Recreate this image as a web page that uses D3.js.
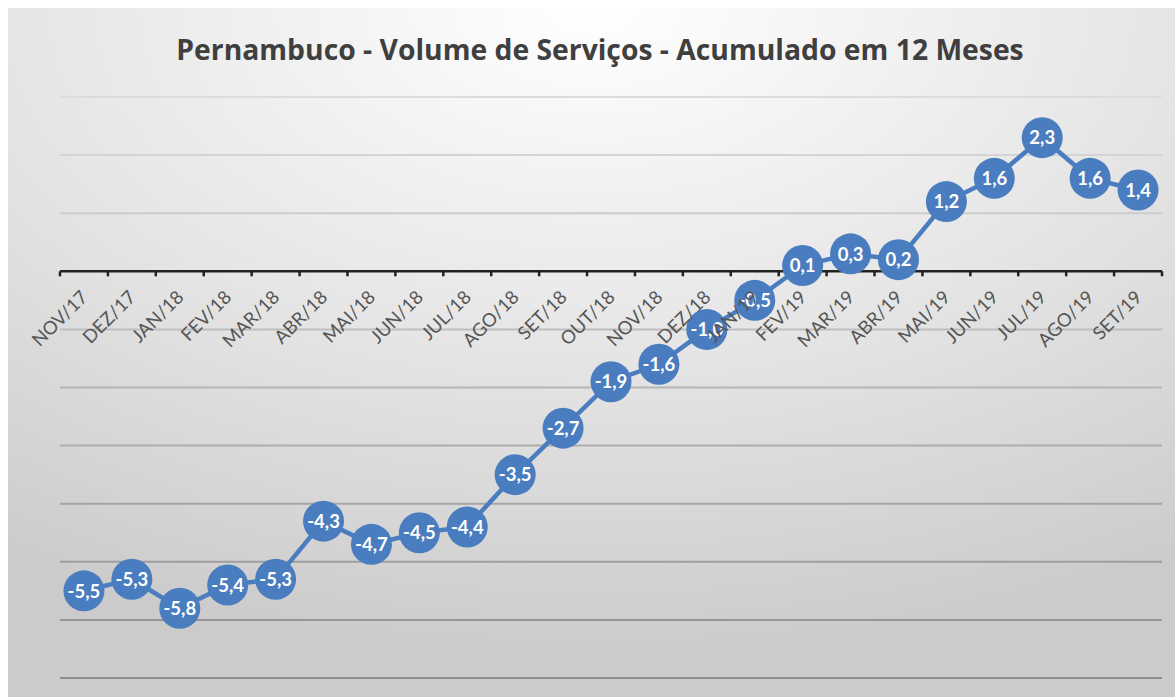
<!DOCTYPE html>
<html>
<head>
<meta charset="utf-8">
<script src="https://cdn.jsdelivr.net/npm/d3@7"></script>
<style>
  body { margin: 0; background: #fff; }
  svg { display: block; }
</style>
</head>
<body>
<div id="plot"></div>
<script>
// meses e valores (acumulado 12 meses, %)
let months = ["NOV/17","DEZ/17","JAN/18","FEV/18","MAR/18","ABR/18","MAI/18","JUN/18","JUL/18",
              "AGO/18","SET/18","OUT/18","NOV/18","DEZ/18","JAN/19","FEV/19","MAR/19","ABR/19",
              "MAI/19","JUN/19","JUL/19","AGO/19","SET/19"];
let values = [-5.5,-5.3,-5.8,-5.4,-5.3,-4.3,-4.7,-4.5,-4.4,-3.5,-2.7,-1.9,-1.6,-1.0,-0.5,
              0.1,0.3,0.2,1.2,1.6,2.3,1.6,1.4];
let gridTicks = [-7,-6,-5,-4,-3,-2,-1,1,2,3];
let title = "Pernambuco - Volume de Serviços - Acumulado em 12 Meses";

window.addEventListener("load", main);

function main(){
  let [svgWidth, svgHeight] = [1175, 697];
  let data = months.map((m,i) => ({month: m, value: values[i]}));
  let blue = "#4a7dbf";

  let svg = d3.select('#plot').append('svg')
    .attr('width', svgWidth)
    .attr('height', svgHeight);

  // background gradient
  let defs = svg.append('defs');
  let grad = defs.append('radialGradient')
    .attr('id','bg')
    .attr('cx','50%').attr('cy','0%')
    .attr('r','95%')
    .attr('fx','50%').attr('fy','0%');
  grad.append('stop').attr('offset','0%').attr('stop-color','#ffffff');
  grad.append('stop').attr('offset','55%').attr('stop-color','#e4e4e4');
  grad.append('stop').attr('offset','100%').attr('stop-color','#cbcbcb');

  svg.append('rect')
    .attr('x',8).attr('y',8)
    .attr('width', svgWidth-8).attr('height', svgHeight-8)
    .attr('fill','url(#bg)');

  // scales
  let xsc = d3.scaleBand()
    .domain(months)
    .range([60, 1162]);

  let ysc = d3.scaleLinear()
    .domain([-7, 3])
    .range([678, 97]);

  let gridColor = d3.scaleLinear()
    .domain([3, -7])
    .range(['#dcdcdc', '#8e8e8e']);

  // gridlines
  svg.append('g').selectAll('line')
    .data(gridTicks)
    .join('line')
      .attr('x1', xsc.range()[0])
      .attr('x2', xsc.range()[1])
      .attr('y1', d => ysc(d))
      .attr('y2', d => ysc(d))
      .attr('stroke', d => gridColor(d))
      .attr('stroke-width', 2);

  // axis line at zero, ticks at category boundaries
  let axisG = svg.append('g');
  axisG.append('line')
    .attr('x1', xsc.range()[0])
    .attr('x2', xsc.range()[1])
    .attr('y1', ysc(0)).attr('y2', ysc(0))
    .attr('stroke', '#222').attr('stroke-width', 2.5);
  axisG.selectAll('.tk')
    .data(d3.range(months.length + 1))
    .join('line')
      .attr('class','tk')
      .attr('x1', i => xsc.range()[0] + i*xsc.step())
      .attr('x2', i => xsc.range()[0] + i*xsc.step())
      .attr('y1', ysc(0)).attr('y2', ysc(0) + 5)
      .attr('stroke', '#222').attr('stroke-width', 2.5);

  // series line
  let line = d3.line()
    .x(d => xsc(d.month) + xsc.bandwidth()/2)
    .y(d => ysc(d.value));

  svg.append('path')
    .datum(data)
    .attr('d', line)
    .attr('fill','none')
    .attr('stroke', blue)
    .attr('stroke-width', 4.5);

  // markers + labels
  let pts = svg.append('g').selectAll('g')
    .data(data)
    .join('g')
      .attr('transform', d => `translate(${xsc(d.month) + xsc.bandwidth()/2},${ysc(d.value)})`);

  pts.append('circle')
    .attr('r', 20.5)
    .attr('fill', blue);

  pts.append('text')
    .text(d => d3.format('.1f')(d.value).replace('.', ',').replace('−','-'))
    .attr('text-anchor','middle')
    .attr('dy','0.36em')
    .attr('fill','#fff')
    .attr('font-family','Lato, "Open Sans", sans-serif')
    .attr('font-weight','bold')
    .attr('font-size', 18.5);

  // category labels (drawn on top, like the original)
  let xAxMker = d3.axisBottom(xsc).tickSize(0).tickPadding(0);
  let xAx = svg.append('g')
    .attr('transform', `translate(0,${ysc(0)})`)
    .call(xAxMker);
  xAx.select('.domain').remove();
  xAx.selectAll('text')
    .attr('font-family','Lato, "Open Sans", sans-serif')
    .attr('font-size', 18.5)
    .attr('fill','#555')
    .attr('text-anchor','end')
    .attr('y', 0)
    .attr('dy', 0)
    .attr('transform','translate(5,27) rotate(-45)');

  // title
  svg.append('text')
    .attr('x', 600)
    .attr('y', 60)
    .attr('text-anchor','middle')
    .attr('font-family','"Open Sans", Lato, sans-serif')
    .attr('font-weight','bold')
    .attr('font-size', 28.3)
    .attr('fill','#3f3f3f')
    .text(title);
}
</script>
</body>
</html>
